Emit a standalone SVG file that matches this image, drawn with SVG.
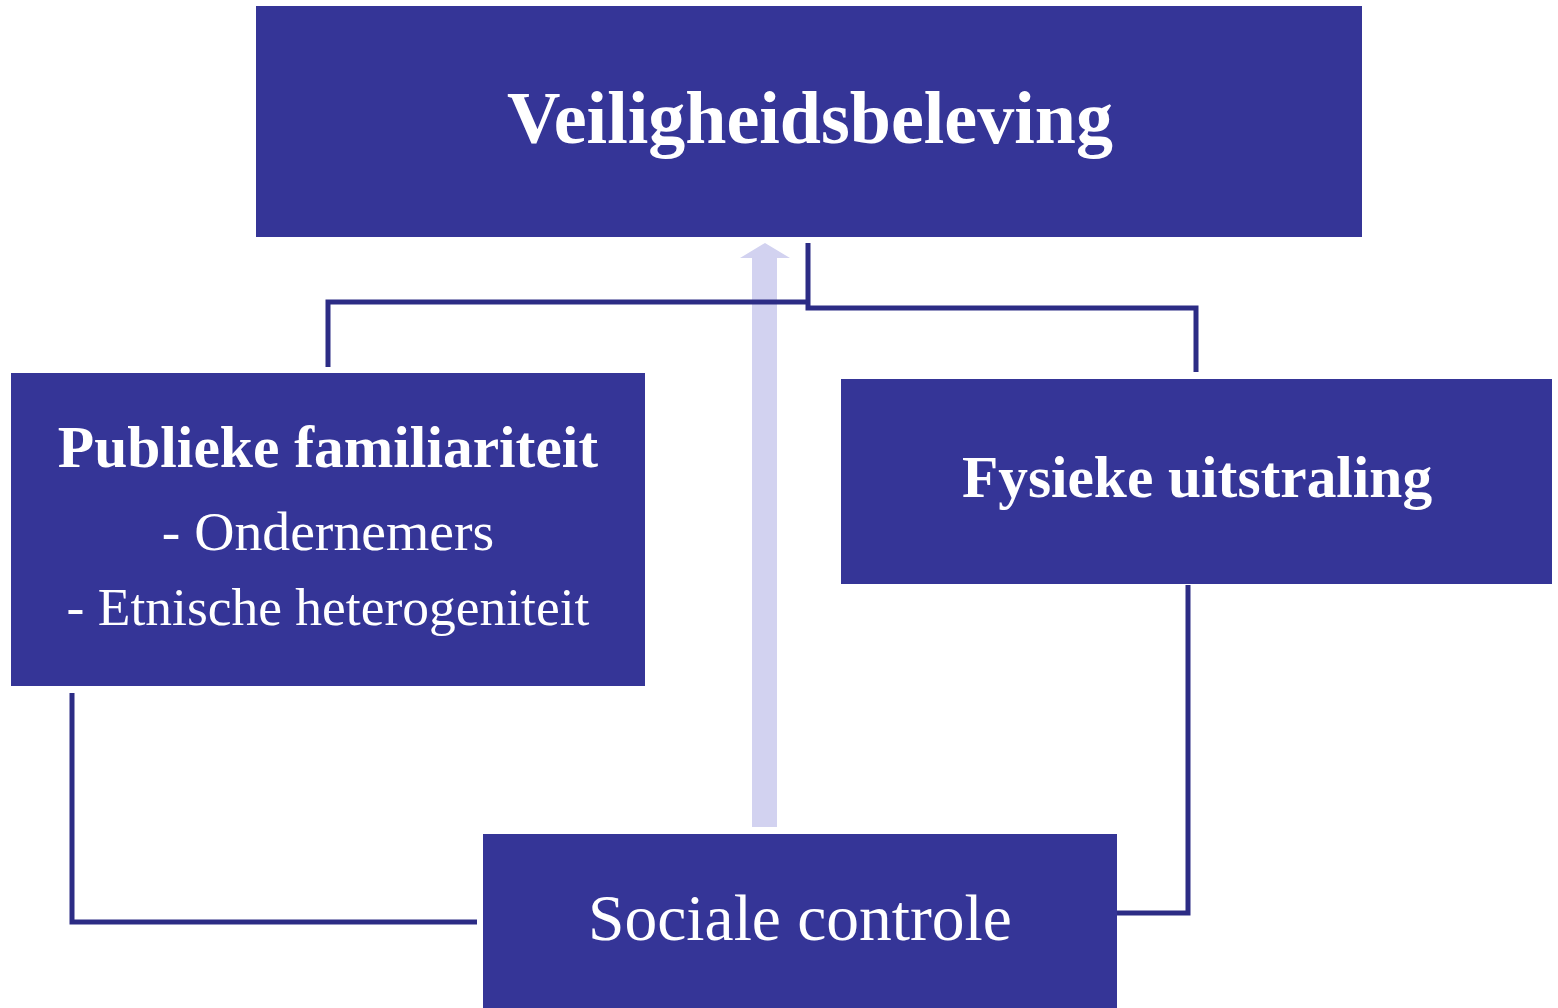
<svg xmlns="http://www.w3.org/2000/svg" width="1558" height="1008" viewBox="0 0 1558 1008">
<style>
.box{fill:#353597}
.t{fill:#fff;font-family:"Liberation Serif","DejaVu Serif",serif;text-anchor:middle}
.b{font-weight:bold}
.c{fill:none;stroke:#2c2c85;stroke-width:5;stroke-linejoin:miter}
</style>
<rect width="1558" height="1008" fill="#fff"/>
<g id="connectors">
<polygon points="752,827 777,827 777,258 790,258 765,243 740,258 752,258" fill="#d2d2f0"/>
<polyline class="c" points="328,367 328,302 808,302"/>
<polyline class="c" points="808,243 808,308 1196,308 1196,372"/>
<polyline class="c" points="72,693 72,922 477,922"/>
<polyline class="c" points="1188,585 1188,913 1117,913"/>
</g>
<g id="veiligheidsbeleving">
<rect class="box" x="256" y="6" width="1106" height="231"/>
<text class="t b" x="810" y="143" font-size="74">Veiligheidsbeleving</text>
</g>
<g id="publieke">
<rect class="box" x="11" y="373" width="634" height="313"/>
<text class="t b" x="328" y="467" font-size="59.5">Publieke familiariteit</text>
<text class="t" x="328" y="550" font-size="55.7">- Ondernemers</text>
<text class="t" x="328" y="625" font-size="53.5">- Etnische heterogeniteit</text>
</g>
<g id="fysieke">
<rect class="box" x="841" y="379" width="711" height="205"/>
<text class="t b" x="1197" y="497" font-size="59.4">Fysieke uitstraling</text>
</g>
<g id="sociale">
<rect class="box" x="483" y="834" width="634" height="174"/>
<text class="t" x="800" y="940" font-size="65.5">Sociale controle</text>
</g>
</svg>
